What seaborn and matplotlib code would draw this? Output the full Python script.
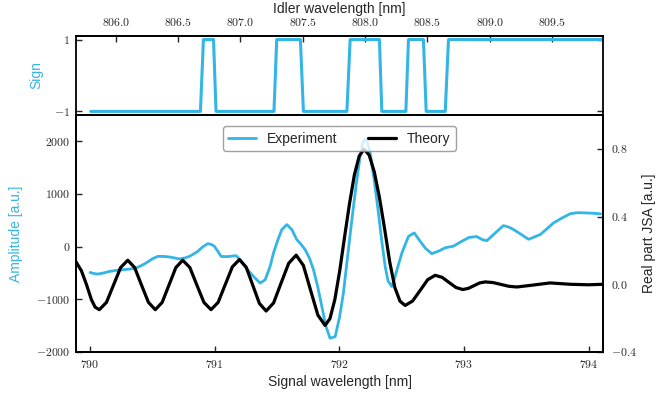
import numpy as np
import pandas as pd
import matplotlib
matplotlib.use("Agg")
import matplotlib.pyplot as plt
import seaborn as sns
from matplotlib.ticker import FuncFormatter, FixedLocator

# measured experimental amplitude (signal wavelength in nm, amplitude in a.u.)
exp_wl = [790.00, 790.03, 790.06, 790.10, 790.155, 790.21, 790.262, 790.32, 790.369, 790.41,
          790.449, 790.50, 790.543, 790.59, 790.636, 790.68, 790.716, 790.76, 790.796, 790.83,
          790.864, 790.90, 790.944, 790.975, 790.997, 791.025, 791.051, 791.09, 791.118, 791.171,
          791.203, 791.25, 791.31, 791.364, 791.404, 791.444, 791.471, 791.505, 791.538, 791.578,
          791.618, 791.658, 791.69, 791.725, 791.76, 791.792, 791.825, 791.859, 791.89, 791.925,
          791.966, 792.00, 792.032, 792.066, 792.10, 792.133, 792.166, 792.19, 792.206, 792.226,
          792.246, 792.28, 792.313, 792.34, 792.367, 792.39, 792.42, 792.447, 792.475, 792.501,
          792.554, 792.60, 792.648, 792.69, 792.741, 792.80, 792.85, 792.915, 792.98, 793.04,
          793.10, 793.15, 793.183, 793.25, 793.316, 793.36, 793.397, 793.46, 793.517, 793.57,
          793.611, 793.66, 793.718, 793.79, 793.852, 793.91, 793.959, 794.03, 794.095]
exp_amp = [-490, -510, -520, -505, -470, -450, -438, -425, -406, -360,
           -311, -230, -185, -185, -196, -215, -234, -215, -185, -140,
           -89, -10, 57, 40, 6, -90, -185, -190, -185, -171,
           -248, -400, -565, -692, -629, -375, -120, 120, 324, 419,
           324, 133, 50, -57, -220, -438, -750, -1137, -1500, -1739,
           -1708, -1350, -882, -180, 514, 1150, 1720, 1990, 2050, 1970,
           1785, 1250, 642, 100, -375, -650, -756, -565, -330, -120,
           196, 261, 101, -30, -133, -80, -20, 10, 100, 175,
           192, 130, 114, 260, 400, 370, 324, 230, 140, 190,
           229, 330, 451, 550, 625, 645, 642, 635, 623]

# theoretical real part of the JSA
theory_wl = [789.887, 789.93, 789.97, 790.01, 790.04, 790.074, 790.131, 790.188, 790.245, 790.302,
             790.357, 790.412, 790.468, 790.523, 790.578, 790.633, 790.688, 790.743, 790.80, 790.856,
             790.913, 790.97, 791.027, 791.084, 791.141, 791.198, 791.252, 791.305, 791.358, 791.412,
             791.472, 791.532, 791.593, 791.653, 791.711, 791.769, 791.827, 791.885, 791.924, 791.963,
             792.002, 792.041, 792.081, 792.12, 792.159, 792.198, 792.239, 792.280, 792.321, 792.362,
             792.404, 792.445, 792.486, 792.527, 792.587, 792.648, 792.708, 792.768, 792.824, 792.879,
             792.935, 792.99, 793.035, 793.08, 793.125, 793.17, 793.233, 793.297, 793.36, 793.424,
             793.55, 793.69, 793.85, 794.0, 794.115]
theory_jsa = [0.132, 0.08, 0.0, -0.09, -0.135, -0.150, -0.107, -0.004, 0.099, 0.142,
              0.099, -0.004, -0.107, -0.150, -0.107, -0.004, 0.099, 0.142, 0.099, -0.004,
              -0.107, -0.150, -0.107, -0.002, 0.103, 0.146, 0.101, -0.006, -0.113, -0.158,
              -0.110, 0.007, 0.124, 0.172, 0.111, -0.036, -0.182, -0.243, -0.203, -0.091,
              0.078, 0.278, 0.477, 0.646, 0.758, 0.798, 0.763, 0.663, 0.513, 0.330,
              0.130, -0.020, -0.100, -0.125, -0.099, -0.036, 0.027, 0.053, 0.041, 0.011,
              -0.019, -0.031, -0.024, -0.008, 0.008, 0.014, 0.010, -0.001, -0.012, -0.016,
              -0.005, 0.008, 0.0, -0.003, 0.0]

# sign of the measured amplitude
sign_wl = [790.005, 790.885, 790.909, 790.99, 791.01, 791.475, 791.497, 791.687, 791.711,
           792.06, 792.086, 792.321, 792.34, 792.533, 792.554, 792.674, 792.696, 792.849,
           792.875, 794.115]
sign_val = [-1, -1, 1, 1, -1, -1, 1, 1, -1,
            -1, 1, 1, -1, -1, 1, 1, -1, -1,
            1, 1]

IDLER_OFFSET = 15.794  # idler = signal + offset (linear approx. over this range)
BLUE = "#33b5e5"

sns.set_style("ticks")
plt.rcParams["font.family"] = ["Liberation Sans", "DejaVu Sans"]
plt.rcParams["mathtext.fontset"] = "cm"

fig = plt.figure(figsize=(6.56, 3.98), dpi=100)
ax_sign = fig.add_axes([0.1159, 0.7111, 0.8034, 0.1985])
ax = fig.add_axes([0.1159, 0.1156, 0.8034, 0.5955])
ax2 = ax.twinx()

sns.lineplot(x=sign_wl, y=sign_val, ax=ax_sign, color=BLUE, lw=2.2, estimator=None)
sns.lineplot(x=exp_wl, y=exp_amp, ax=ax, color=BLUE, lw=2.0, estimator=None)
sns.lineplot(x=theory_wl, y=theory_jsa, ax=ax2, color="black", lw=2.3, estimator=None)

xlim = (789.887, 794.115)
math_fmt = lambda fmt: FuncFormatter(lambda v, p: "$" + (fmt % v) + "$")
tick_kw = dict(direction="in", labelsize=8.5, width=1, length=4.5)

# sign panel
ax_sign.set_xlim(xlim)
ax_sign.set_ylim(-1.1, 1.1)
ax_sign.yaxis.set_major_locator(FixedLocator([-1, 1]))
ax_sign.yaxis.set_major_formatter(math_fmt("%d"))
ax_sign.tick_params(axis="y", left=True, right=True, pad=4, **tick_kw)
ax_sign.tick_params(axis="x", bottom=False, labelbottom=False)
ax_sign.set_ylabel("Sign", color=BLUE, fontsize=10)
ax_sign.yaxis.set_label_coords(-0.062, 0.5)

idler = ax_sign.secondary_xaxis("top", functions=(lambda s: s + IDLER_OFFSET,
                                                   lambda i: i - IDLER_OFFSET))
idler.xaxis.set_major_locator(FixedLocator([806.0, 806.5, 807.0, 807.5, 808.0, 808.5, 809.0, 809.5]))
idler.xaxis.set_major_formatter(math_fmt("%.1f"))
idler.tick_params(axis="x", pad=5, **tick_kw)
idler.set_xlabel("Idler wavelength [nm]", fontsize=10, labelpad=3)

# main panel
ax.set_xlim(xlim)
ax.set_ylim(-2000, 2500)
ax.yaxis.set_major_locator(FixedLocator([-2000, -1000, 0, 1000, 2000]))
ax.yaxis.set_major_formatter(math_fmt("%d"))
ax.xaxis.set_major_locator(FixedLocator([790, 791, 792, 793, 794]))
ax.xaxis.set_major_formatter(math_fmt("%d"))
ax.tick_params(axis="x", top=False, pad=5, **tick_kw)
ax.tick_params(axis="y", right=False, pad=4, **tick_kw)
ax.set_xlabel("Signal wavelength [nm]", fontsize=10)
ax.xaxis.set_label_coords(0.5, -0.095)
ax.set_ylabel("Amplitude [a.u.]", color=BLUE, fontsize=10)
ax.yaxis.set_label_coords(-0.1, 0.5)

ax2.set_ylim(-0.4, 1.0)
ax2.yaxis.set_major_locator(FixedLocator([-0.4, 0.0, 0.4, 0.8]))
ax2.yaxis.set_major_formatter(math_fmt("%.1f"))
ax2.tick_params(axis="y", pad=6, **tick_kw)
ax2.set_ylabel("Real part JSA [a.u.]", fontsize=10)
ax2.yaxis.set_label_coords(1.073, 0.5)

for a in (ax_sign, ax, ax2):
    for s in a.spines.values():
        s.set_visible(True)
        s.set_linewidth(1.3)
        s.set_color("black")
for s in idler.spines.values():
    s.set_linewidth(1.3)

handles = [ax.lines[0], ax2.lines[0]]
leg = ax2.legend(handles, ["Experiment", "Theory"], loc="upper center", ncol=2,
                 fontsize=10, frameon=True, fancybox=True, edgecolor="#888888",
                 handlelength=2.0, columnspacing=2.2, borderaxespad=0.8)

fig.savefig("out.png", dpi=100)
